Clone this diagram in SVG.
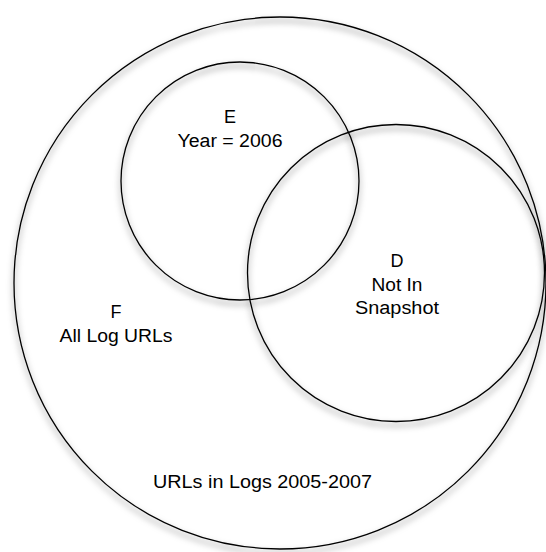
<svg xmlns="http://www.w3.org/2000/svg" width="546" height="552" viewBox="0 0 546 552">
  <defs>
    <filter id="shadow" x="-10%" y="-10%" width="120%" height="120%">
      <feDropShadow dx="0" dy="4" stdDeviation="3" flood-color="#000" flood-opacity="0.6"/>
    </filter>
  </defs>
  <style>
    .set { fill: none; stroke: #000; stroke-width: 1.3; filter: url(#shadow); }
    .lbl { font-family: "Liberation Sans", Arial, sans-serif; font-size: 18px; fill: #000; text-anchor: middle; }
  </style>
  <rect x="0" y="0" width="546" height="552" fill="#fff"/>
  <g id="all-urls">
    <circle class="set" cx="280" cy="283" r="266"/>
    <text class="lbl" x="262.5" y="488" textLength="219" lengthAdjust="spacingAndGlyphs">URLs in Logs 2005-2007</text>
  </g>
  <g id="node-F">
    <text class="lbl" x="116" y="318">F</text>
    <text class="lbl" x="116" y="342" textLength="113" lengthAdjust="spacingAndGlyphs">All Log URLs</text>
  </g>
  <g id="node-E">
    <circle class="set" cx="240" cy="181" r="119"/>
    <text class="lbl" x="230" y="123">E</text>
    <text class="lbl" x="230" y="147" textLength="105" lengthAdjust="spacingAndGlyphs">Year = 2006</text>
  </g>
  <g id="node-D">
    <circle class="set" cx="396" cy="273" r="148.5"/>
    <text class="lbl" x="397" y="267">D</text>
    <text class="lbl" x="397" y="290.5" textLength="51" lengthAdjust="spacingAndGlyphs">Not In</text>
    <text class="lbl" x="397" y="314" textLength="84" lengthAdjust="spacingAndGlyphs">Snapshot</text>
  </g>
</svg>
